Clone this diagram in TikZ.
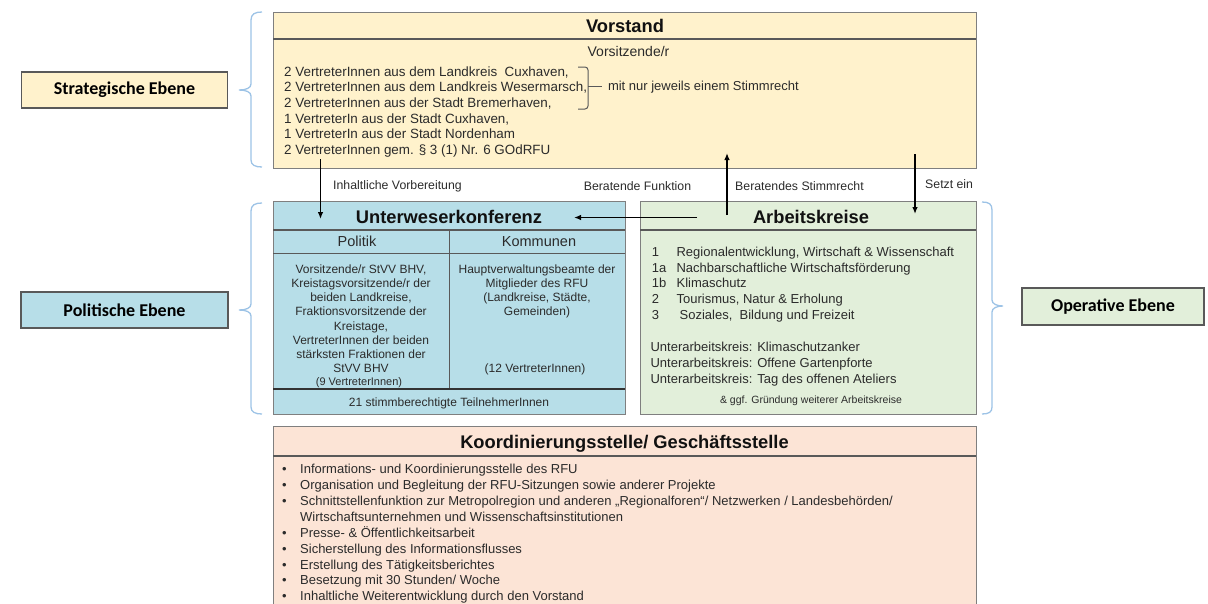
\documentclass[tikz,border=0pt]{standalone}
\usepackage{fontspec}
\setmainfont{Liberation Sans}
\newfontfamily\calibri{Carlito}
\usetikzlibrary{arrows.meta}
\definecolor{vyellow}{HTML}{FFF2CC}
\definecolor{ublue}{HTML}{B7DEE8}
\definecolor{agreen}{HTML}{E2EFDA}
\definecolor{kpeach}{HTML}{FCE4D6}
\definecolor{boxgray}{HTML}{7F7F7F}
\definecolor{sepgray}{HTML}{595959}
\definecolor{bracecol}{HTML}{9DC3E6}
\definecolor{txt}{HTML}{2B2B2B}
\definecolor{ttlcol}{HTML}{111111}
\begin{document}
\begin{tikzpicture}[x=1pt,y=-1pt,
  box/.style={draw=boxgray, line width=1.3pt, inner sep=0pt, anchor=north west},
  lbl/.style={draw=sepgray, line width=1.3pt, inner sep=0pt, font=\calibri\bfseries\fontsize{18}{20}\selectfont, text=black},
  ttl/.style={font=\bfseries\fontsize{18.3}{20}\selectfont, text=ttlcol, inner sep=0pt, anchor=base},
  bt/.style={font=\fontsize{13}{15}\selectfont, text=txt, inner sep=0pt, anchor=base west},
  sm/.style={font=\fontsize{12}{14}\selectfont, text=txt, inner sep=0pt, anchor=base},
  lab/.style={font=\fontsize{12.3}{14}\selectfont, text=txt, inner sep=0pt, anchor=base west},
  sep/.style={draw=sepgray, line width=1.3pt},
  brc/.style={draw=bracecol, line width=1.3pt},
  arr/.style={-{Latex[length=7pt,width=5.5pt]}, line width=1.3pt, black}
]
\useasboundingbox (0,0) rectangle (1208,603);
\clip (0,0) rectangle (1208,603);

% ---------- level labels ----------
\node[lbl, fill=vyellow, minimum width=206, minimum height=36] (strat) at (124.5,90) {Strategische Ebene};
\node[lbl, fill=ublue, minimum width=207, minimum height=36] (polit) at (124.5,310) {Politische Ebene};
\node[lbl, fill=agreen, minimum width=182, minimum height=37] (oper) at (1113,306.5) {Operative Ebene};

% ---------- braces ----------
\draw[brc] (262,12) .. controls (255,12) and (251,14) .. (251,20) -- (251,84)
  .. controls (251,88) and (246,90) .. (239,90) .. controls (246,90) and (251,92) .. (251,96)
  -- (251,160) .. controls (251,165) and (255,167) .. (262,167);
\draw[brc] (262,203) .. controls (255,203) and (251,205) .. (251,211) -- (251,304)
  .. controls (251,308) and (246,310) .. (239,310) .. controls (246,310) and (251,312) .. (251,316)
  -- (251,407) .. controls (251,412) and (255,414) .. (262,414);
\draw[brc] (982,202) .. controls (989,202) and (992,204) .. (992,210) -- (992,300)
  .. controls (992,304) and (997,306) .. (1003,306) .. controls (997,306) and (992,308) .. (992,312)
  -- (992,407) .. controls (992,412) and (989,414) .. (982,414);

% ---------- Vorstand ----------
\node[box, fill=vyellow, minimum width=703, minimum height=156] (vorstand) at (273,12) {};
\draw[sep] (273,39) -- (976,39);
\node[ttl] (vtitle) at (625,32) {Vorstand};
\node[bt, font=\fontsize{14}{16}\selectfont, anchor=base] (vsitz) at (628.5,56.5) {Vorsitzende/r};
\node[bt, font=\fontsize{13.4}{15}\selectfont] (v1) at (284,76) {2 VertreterInnen aus dem Landkreis\ \ Cuxhaven,};
\node[bt, font=\fontsize{13.4}{15}\selectfont] (v2) at (284,91.7) {2 VertreterInnen aus dem Landkreis Wesermarsch,};
\node[bt, font=\fontsize{13.4}{15}\selectfont] (v3) at (284,107.4) {2 VertreterInnen aus der Stadt Bremerhaven,};
\node[bt, font=\fontsize{13.4}{15}\selectfont] (v4) at (284,123.1) {1 VertreterIn aus der Stadt Cuxhaven,};
\node[bt, font=\fontsize{13.4}{15}\selectfont] (v5) at (284,138.8) {1 VertreterIn aus der Stadt Nordenham};
\node[bt, font=\fontsize{13.4}{15}\selectfont] (v6) at (284,154.5) {2 VertreterInnen gem. § 3 (1) Nr. 6 GOdRFU};
\draw[draw=sepgray, line width=1pt, rounded corners=3] (578,67) -- (588,67) -- (588,109) -- (578,109);
\draw[draw=sepgray, line width=1pt] (588,86) -- (602,86);
\node[bt] (vstimm) at (607.8,90.6) {mit nur jeweils einem Stimmrecht};

% ---------- connector labels ----------
\node[lab] (linh) at (333,189) {Inhaltliche Vorbereitung};
\node[lab] (lber) at (583.6,190) {Beratende Funktion};
\node[lab] (lstimm) at (735,190) {Beratendes Stimmrecht};
\node[lab] (lsetzt) at (925,188) {Setzt ein};

% ---------- Unterweserkonferenz ----------
\node[box, fill=ublue, minimum width=352, minimum height=213] (uwk) at (273,201) {};
\draw[sep] (273,230) -- (625,230);
\draw[sep, line width=1pt] (273,253) -- (625,253);
\draw[sep, line width=1pt] (449,230) -- (449,389);
\draw[sep, line width=2pt, draw=black!80] (273,389) -- (625,389);
\node[ttl] (utitle) at (449,223) {Unterweserkonferenz};
\node[sm, font=\fontsize{14.5}{16}\selectfont] (upol) at (357,246.7) {Politik};
\node[sm, font=\fontsize{14.5}{16}\selectfont] (ukom) at (539,246.7) {Kommunen};
\node[sm] (p1) at (361,273.3) {Vorsitzende/r StVV BHV,};
\node[sm] (p2) at (361,287.5) {Kreistagsvorsitzende/r der};
\node[sm] (p3) at (361,301.7) {beiden Landkreise,};
\node[sm] (p4) at (361,315.9) {Fraktionsvorsitzende der};
\node[sm] (p5) at (361,330.1) {Kreistage,};
\node[sm] (p6) at (361,344.3) {VertreterInnen der beiden};
\node[sm] (p7) at (361,358.5) {stärksten Fraktionen der};
\node[sm] (p8) at (361,372.7) {StVV BHV};
\node[sm, font=\fontsize{11}{13}\selectfont] (p9) at (359,385) {(9 VertreterInnen)};
\node[sm] (k1) at (537,273.3) {Hauptverwaltungsbeamte der};
\node[sm] (k2) at (537,287.5) {Mitglieder des RFU};
\node[sm] (k3) at (537,301.7) {(Landkreise, Städte,};
\node[sm] (k4) at (537,315.9) {Gemeinden)};
\node[sm] (k5) at (535,372) {(12 VertreterInnen)};
\node[sm] (ufoot) at (449,406.6) {21 stimmberechtigte TeilnehmerInnen};

% ---------- Arbeitskreise ----------
\node[box, fill=agreen, minimum width=336, minimum height=213] (ak) at (640,201) {};
\draw[sep] (640,230) -- (976,230);
\node[ttl] (atitle) at (811,223) {Arbeitskreise};
\node[bt] (an1) at (651.6,256.3) {1};
\node[bt] (at1) at (676.4,256.3) {Regionalentwicklung, Wirtschaft \& Wissenschaft};
\node[bt] (an2) at (651.6,272.1) {1a};
\node[bt] (at2) at (676.4,272.1) {Nachbarschaftliche Wirtschaftsförderung};
\node[bt] (an3) at (651.6,287.9) {1b};
\node[bt] (at3) at (676.4,287.9) {Klimaschutz};
\node[bt] (an4) at (651.6,303.7) {2};
\node[bt] (at4) at (676.4,303.7) {Tourismus, Natur \& Erholung};
\node[bt] (an5) at (651.6,319.5) {3};
\node[bt] (at5) at (679.5,319.5) {Soziales,\ \ Bildung und Freizeit};
\node[bt] (u1) at (650.4,351.3) {Unterarbeitskreis: Klimaschutzanker};
\node[bt] (u2) at (650.4,367.3) {Unterarbeitskreis: Offene Gartenpforte};
\node[bt] (u3) at (650.4,383) {Unterarbeitskreis: Tag des offenen Ateliers};
\node[sm, font=\fontsize{10.5}{12}\selectfont] (agr) at (811,403) {\& ggf. Gründung weiterer Arbeitskreise};

% ---------- Koordinierungsstelle ----------
\node[box, fill=kpeach, minimum width=703, minimum height=200] (koord) at (273,426) {};
\draw[sep] (273,456) -- (976,456);
\node[ttl] (ktitle) at (624.5,448.5) {Koordinierungsstelle/ Geschäftsstelle};
\foreach \yy/\nm in {473.6/b1,489.5/b2,505.4/b3,537.2/b4,553.1/b5,569/b6,584.9/b7,600.8/b8}
  \node[sm, font=\fontsize{13}{14}\selectfont, anchor=base, name=\nm] at (284.3,\yy) {•};
\node[bt] (c1) at (300,473.6) {Informations- und Koordinierungsstelle des RFU};
\node[bt] (c2) at (300,489.5) {Organisation und Begleitung der RFU-Sitzungen sowie anderer Projekte};
\node[bt] (c3) at (300,505.4) {Schnittstellenfunktion zur Metropolregion und anderen „Regionalforen“/ Netzwerken / Landesbehörden/};
\node[bt] (c4) at (300,521.3) {Wirtschaftsunternehmen und Wissenschaftsinstitutionen};
\node[bt] (c5) at (300,537.2) {Presse- \& Öffentlichkeitsarbeit};
\node[bt] (c6) at (300,553.1) {Sicherstellung des Informationsflusses};
\node[bt] (c7) at (300,569) {Erstellung des Tätigkeitsberichtes};
\node[bt] (c8) at (300,584.9) {Besetzung mit 30 Stunden/ Woche};
\node[bt] (c9) at (300,600.8) {Inhaltliche Weiterentwicklung durch den Vorstand};

% ---------- connectors ----------
\coordinate (a1s) at (320.5,159);
\coordinate (a1e) at (320.5,219);
\coordinate (a2s) at (697,217.5);
\coordinate (a2e) at (574,217.5);
\coordinate (a3s) at (727,215);
\coordinate (a3e) at (727,153);
\coordinate (a4s) at (915,154);
\coordinate (a4e) at (915,214);
\draw[arr] (a1s) -- (a1e);
\draw[arr] (a2s) -- (a2e);
\draw[arr] (a3s) -- (a3e);
\draw[arr] (a4s) -- (a4e);
\end{tikzpicture}
\end{document}
